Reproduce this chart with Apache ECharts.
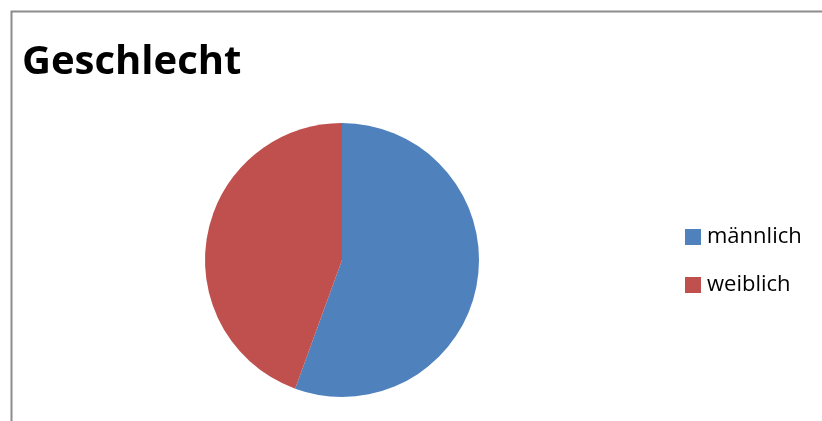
<!DOCTYPE html>
<html>
<head>
<meta charset="utf-8">
<script src="https://cdn.jsdelivr.net/npm/echarts@6/dist/echarts.min.js"></script>
<style>
  html, body { margin: 0; padding: 0; background: #fff; }
  #chart { width: 822px; height: 421px; }
</style>
</head>
<body>
<div id="chart"></div>
<script>
const categories = ["männlich", "weiblich"];
const values = [5, 4];
const colors = ["#4F81BD", "#C0504D"];

const chart = echarts.init(document.getElementById("chart"));
const option = {
    animation: false,
    color: colors,
    title: {
        text: "Geschlecht",
        left: 17,
        top: 38,
        textStyle: {
            fontFamily: "Open Sans",
            fontWeight: "bold",
            fontSize: 40,
            color: "#000",
        },
    },
    graphic: [
        {
            type: "rect",
            shape: { x: 11.5, y: 11.5, width: 900, height: 500 },
            style: { fill: "none", stroke: "#8c8c8c", lineWidth: 2 },
            silent: true,
        },
    ],
    legend: {
        orient: "vertical",
        left: 685,
        top: 226,
        padding: 0,
        itemWidth: 16,
        itemHeight: 16,
        itemGap: 26,
        icon: "rect",
        textStyle: {
            fontFamily: "Open Sans",
            fontSize: 22,
            lineHeight: 22,
            color: "#000",
            padding: [0, 0, 0, 1],
        },
        data: categories,
    },
    series: [
        {
            type: "pie",
            center: [342, 260],
            radius: 137,
            startAngle: 90,
            clockwise: true,
            label: { show: false },
            labelLine: { show: false },
            emphasis: { disabled: true },
            itemStyle: { borderWidth: 0 },
            data: categories.map((name, i) => ({ name: name, value: values[i] })),
        },
    ],
};
option && chart.setOption(option);
</script>
</body>
</html>
